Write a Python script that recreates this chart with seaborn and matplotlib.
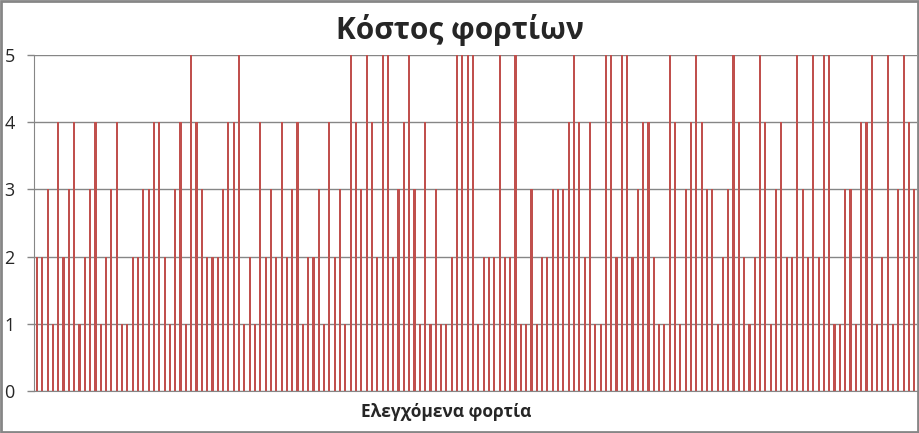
import numpy as np
import pandas as pd
import matplotlib
matplotlib.use('Agg')
import matplotlib.pyplot as plt
from matplotlib.patches import Rectangle
import seaborn as sns

# cost of each checked load (166 bars)
values = [2, 2, 3, 1, 4, 2, 3, 4, 1, 2,
          3, 4, 1, 2, 3, 4, 1, 1, 2, 2,
          3, 3, 4, 4, 2, 1, 3, 4, 1, 5,
          4, 3, 2, 2, 2, 3, 4, 4, 5, 1,
          2, 1, 4, 2, 3, 2, 4, 2, 3, 4,
          1, 2, 2, 3, 1, 4, 2, 3, 1, 5,
          4, 3, 5, 4, 2, 5, 5, 2, 3, 4,
          5, 3, 1, 4, 1, 3, 1, 1, 2, 5,
          5, 5, 5, 1, 2, 2, 2, 5, 2, 2,
          5, 1, 1, 3, 1, 2, 2, 3, 3, 3,
          4, 5, 4, 2, 4, 1, 1, 5, 5, 2,
          5, 5, 2, 3, 4, 4, 2, 1, 1, 5,
          4, 1, 3, 4, 5, 4, 3, 3, 1, 2,
          3, 5, 4, 2, 1, 2, 5, 4, 1, 3,
          4, 2, 2, 5, 3, 2, 5, 2, 5, 5,
          1, 1, 3, 3, 1, 4, 4, 5, 1, 2,
          5, 1, 3, 5, 4, 3]
loads = list(range(1, len(values) + 1))
yticks = [0, 1, 2, 3, 4, 5]

title = 'Κόστος φορτίων'
xlabel = 'Ελεγχόμενα φορτία'

sns.set_style('white')
plt.rcParams['font.family'] = ['Open Sans', 'DejaVu Sans']

df = pd.DataFrame({'load': loads, 'cost': values})

fig = plt.figure(figsize=(9.2, 4.33), dpi=100)
ax = fig.add_axes([0.0373, 0.0977, 0.9594, 0.7746])

sns.barplot(data=df, x='load', y='cost', color='#C0504D', saturation=1,
            width=0.4, ax=ax, errorbar=None, linewidth=0, antialiased=False)

ax.set_ylim(0, 5)
ax.set_xlim(-0.5, len(values) - 0.5)
ax.set_yticks(yticks)
ax.set_yticklabels([str(t) for t in yticks], fontsize=13)
ax.set_xticks([])
ax.set_xlabel('')
ax.set_ylabel('')
ax.yaxis.grid(True, color='#868686', linewidth=1)
ax.set_axisbelow(True)
ax.tick_params(axis='y', length=5, width=1, color='#868686', pad=9, left=True)

for side in ['top', 'right']:
    ax.spines[side].set_visible(False)
ax.spines['left'].set_color('#868686')
ax.spines['bottom'].set_color('#868686')

fig.text(0.5, 0.911, title, ha='center', va='baseline', fontsize=21.5, fontweight='bold')
fig.text(0.485, 0.0375, xlabel, ha='center', va='baseline', fontsize=12.5, fontweight='bold')

# outer chart border
fig.patches.append(Rectangle((0.001, 0.002), 0.997, 0.995, transform=fig.transFigure,
                             fill=False, edgecolor='#868686', linewidth=2))

fig.savefig('out.png', dpi=100)
